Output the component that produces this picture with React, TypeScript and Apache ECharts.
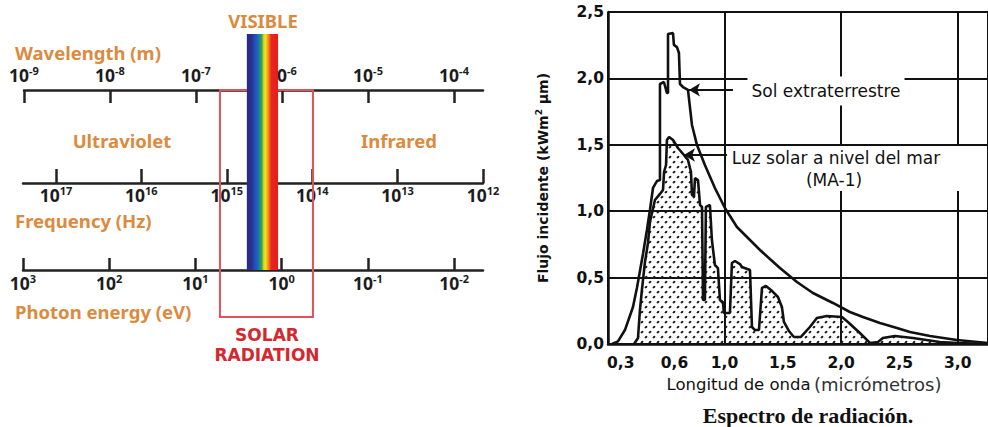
import React, { useEffect, useRef } from 'react';
import * as echarts from 'echarts';

// ---------------- Left diagram (electromagnetic scales) ----------------
const wavelengthExponents = [-9, -8, -7, -6, -5, -4]; // 10^x m
const frequencyExponents = [17, 16, 15, 14, 13, 12]; // 10^x Hz
const photonExponents = [3, 2, 1, 0, -1, -2]; // 10^x eV
const visibleRangeNm = [390, 900];
const solarRangeNm = [190, 2290];
const spectrumStops: [number, string][] = [
  [0, '#26297e'],
  [0.17, '#2a3393'],
  [0.22, '#2248b0'],
  [0.34, '#1f62c0'],
  [0.42, '#1f8f7a'],
  [0.48, '#3aa84a'],
  [0.54, '#cfd82a'],
  [0.6, '#f5e11c'],
  [0.66, '#f6a71b'],
  [0.72, '#ee6a1c'],
  [0.78, '#e8261d'],
  [1, '#e41d1d'],
];

// ---------------- Right chart (solar spectrum) ----------------
const xTickWavelengths = [0.3, 0.6, 1.0, 1.5, 2.0, 2.5, 3.0];
const xTickLabels = ['0,3', '0,6', '1,0', '1,5', '2,0', '2,5', '3,0'];
const axisKnotWavelengths = [0.3, 0.6, 1.0];
const axisKnotPositions = [0.11, 0.57, 1.0];

const extraterrestrialWl = [
  0.251, 0.284, 0.323, 0.368, 0.39, 0.424, 0.446, 0.463, 0.48, 0.502, 0.519, 0.519, 0.541, 0.558, 0.564,
  0.564, 0.592, 0.597, 0.62, 0.636, 0.644, 0.668, 0.708, 0.74, 0.78, 0.843, 0.923, 1.003, 1.106, 1.218,
  1.304, 1.389, 1.475, 1.621, 1.758, 1.93, 2.075, 2.187, 2.333, 2.479, 2.59, 2.762, 2.993, 3.259,
];
const extraterrestrialFlux = [
  0, 0.02, 0.105, 0.279, 0.422, 0.678, 0.858, 1.009, 1.175, 1.227, 1.235, 1.958, 1.973, 1.89, 1.89,
  2.334, 2.342, 2.252, 2.236, 2.191, 1.958, 1.935, 1.913, 1.649, 1.498, 1.348, 1.175, 1.024, 0.881, 0.783,
  0.708, 0.64, 0.572, 0.467, 0.384, 0.309, 0.241, 0.203, 0.158, 0.12, 0.09, 0.06, 0.03, 0.008,
];
const seaLevelWl = [
  0.374, 0.396, 0.407, 0.418, 0.435, 0.452, 0.463, 0.491, 0.519, 0.536, 0.542, 0.553, 0.558, 0.57, 0.592,
  0.628, 0.676, 0.708, 0.732, 0.74, 0.756, 0.764, 0.788, 0.804, 0.82, 0.828, 0.843, 0.851, 0.883, 0.899,
  0.923, 0.947, 0.963, 0.987, 0.995, 1.046, 1.063, 1.089, 1.132, 1.149, 1.218, 1.235, 1.261, 1.295, 1.321,
  1.355, 1.398, 1.458, 1.492, 1.509, 1.552, 1.595, 1.655, 1.732, 1.792, 1.878, 2.007, 2.058, 2.161, 2.247,
  2.316, 2.358, 2.461, 2.616, 2.847, 3.002, 3.259,
];
const seaLevelFlux = [
  0, 0.045, 0.256, 0.407, 0.617, 0.761, 0.919, 1.084, 1.13, 1.16, 1.295, 1.348, 1.536, 1.559, 1.536,
  1.476, 1.423, 1.386, 1.295, 1.122, 1.114, 1.25, 1.235, 1.047, 1.032, 0.331, 0.331, 1.032, 1.047, 0.783,
  0.595, 0.572, 0.331, 0.316, 0.233, 0.233, 0.61, 0.625, 0.602, 0.58, 0.557, 0.128, 0.105, 0.105, 0.422,
  0.437, 0.407, 0.354, 0.279, 0.166, 0.098, 0.053, 0.053, 0.128, 0.196, 0.211, 0.203, 0.166, 0.083, 0.008,
  0.015, 0.045, 0.06, 0.045, 0.015, 0.008, 0,
];
// annotation arrows: [wavelength, flux] from -> to
const arrowSolFrom = [1.072, 1.913];
const arrowSolTo = [0.716, 1.913];
const arrowLuzFrom = [1.021, 1.423];
const arrowLuzTo = [0.676, 1.423];

function toAxis(w: number): number {
  const [w0, w1, w2] = axisKnotWavelengths;
  const [p0, p1, p2] = axisKnotPositions;
  if (w >= w2) return w;
  if (w >= w1) return p1 + ((w - w1) * (p2 - p1)) / (w2 - w1);
  return p0 + ((w - w0) * (p1 - p0)) / (w1 - w0);
}

const FONT_L = '"Noto Sans", "DejaVu Sans", sans-serif';
const FONT_R = '"DejaVu Sans", sans-serif';
const ORANGE = '#dc8a3e';
const RED = '#d4282f';
const INK = '#1c1c1c';

const tickRich = {
  b: { fontSize: 17.5, fontWeight: 'bold', fontFamily: FONT_L, color: INK, lineHeight: 20 },
  s: { fontSize: 11, fontWeight: 'bold', fontFamily: FONT_L, color: INK, lineHeight: 11, verticalAlign: 'top' },
};
const powFormatter = (v: number) => `{b|10}{s|${Math.round(v)}}`;
const scaleLine = { color: '#222', width: 2.5 };

const dotTile =
  'data:image/svg+xml;utf8,' +
  encodeURIComponent(
    '<svg xmlns="http://www.w3.org/2000/svg" width="8" height="10">' +
      '<ellipse cx="2" cy="2.2" rx="1.6" ry="1.05" fill="#1a1a1a" transform="rotate(-35 2 2.2)"/>' +
      '<ellipse cx="6" cy="7.2" rx="1.6" ry="1.05" fill="#1a1a1a" transform="rotate(-35 6 7.2)"/>' +
      '</svg>'
  );

function leftText(text: string, x: number, y: number, color: string, align = 'left', font = `bold 18.5px ${FONT_L}`) {
  return {
    type: 'text',
    x,
    y,
    z: 60,
    style: {
      text,
      fill: color,
      font,
      textAlign: align,
      align,
      textVerticalAlign: 'middle',
      verticalAlign: 'middle',
    },
  };
}

export default function App() {
  const ref = useRef<HTMLDivElement>(null);
  useEffect(() => {
    if (!ref.current) return;
    const chart = echarts.init(ref.current, undefined, { renderer: 'svg' });
    const log10 = (v: number) => Math.log10(v);

    const option: any = {
      animation: false,
      backgroundColor: '#ffffff',
      grid: [
        { left: 24, right: 505, top: 90, height: 180 },
        { left: 23, right: 505, top: 183, height: 80 },
        { left: 23, right: 505, top: 100, height: 170 },
        { left: 608, right: 0, top: 12, bottom: 83 },
      ],
      xAxis: [
        {
          gridIndex: 0,
          type: 'value',
          position: 'top',
          min: -9,
          max: -3.663,
          axisLine: { show: true, onZero: false, lineStyle: scaleLine },
          axisTick: { show: true, inside: true, length: 13, customValues: wavelengthExponents, lineStyle: scaleLine },
          axisLabel: { customValues: wavelengthExponents, formatter: powFormatter, rich: tickRich, margin: 5 },
          splitLine: { show: false },
        },
        {
          gridIndex: 1,
          type: 'value',
          position: 'top',
          inverse: true,
          min: 12,
          max: 17.386,
          axisLine: { show: true, onZero: false, lineStyle: scaleLine },
          axisTick: { show: true, inside: false, length: 14, customValues: frequencyExponents, lineStyle: scaleLine },
          axisLabel: { inside: true, customValues: frequencyExponents, formatter: powFormatter, rich: tickRich, margin: 2 },
          splitLine: { show: false },
        },
        {
          gridIndex: 2,
          type: 'value',
          position: 'bottom',
          inverse: true,
          min: -2.336,
          max: 3,
          axisLine: { show: true, onZero: false, lineStyle: scaleLine },
          axisTick: { show: true, inside: true, length: 12, customValues: photonExponents, lineStyle: scaleLine },
          axisLabel: { customValues: photonExponents, formatter: powFormatter, rich: tickRich, margin: 3 },
          splitLine: { show: false },
        },
        {
          gridIndex: 3,
          type: 'value',
          min: 0,
          max: 3.26,
          interval: 1,
          axisLine: { show: true, onZero: false, lineStyle: { color: '#111', width: 2.5 } },
          axisTick: { show: false },
          splitLine: { show: true, lineStyle: { color: '#111', width: 2 } },
          axisLabel: {
            customValues: xTickWavelengths.map(toAxis),
            formatter: (v: number) => {
              const i = xTickWavelengths.findIndex((w) => Math.abs(toAxis(w) - v) < 1e-6);
              return i >= 0 ? xTickLabels[i] : '';
            },
            fontFamily: FONT_R,
            fontWeight: 'bold',
            fontSize: 15.5,
            color: '#111',
            margin: 11,
          },
          name: '{a|Longitud de onda} {b|(micrómetros)}',
          nameLocation: 'middle',
          nameGap: 31,
          nameTextStyle: {
            rich: {
              a: { fontFamily: FONT_R, fontSize: 16.5, color: '#111', padding: [0, 0, 0, 12] },
              b: { fontFamily: FONT_R, fontSize: 18, color: '#333' },
            },
          },
        },
      ],
      yAxis: [
        { gridIndex: 0, type: 'value', min: 0, max: 1, show: false },
        { gridIndex: 1, type: 'value', min: 0, max: 1, show: false },
        { gridIndex: 2, type: 'value', min: 0, max: 1, show: false },
        {
          gridIndex: 3,
          type: 'value',
          min: 0,
          max: 2.5,
          interval: 0.5,
          axisLine: { show: true, lineStyle: { color: '#111', width: 2.5 } },
          axisTick: { show: false },
          splitLine: { show: true, lineStyle: { color: '#111', width: 2 } },
          axisLabel: {
            formatter: (v: number) => v.toFixed(1).replace('.', ','),
            fontFamily: FONT_R,
            fontWeight: 'bold',
            fontSize: 15.5,
            color: '#111',
            margin: 4,
          },
          name: 'Flujo incidente (kWm{s|2} µm)',
          nameLocation: 'middle',
          nameRotate: 90,
          nameGap: 57,
          nameTextStyle: {
            fontFamily: FONT_R,
            fontWeight: 'bold',
            fontSize: 14,
            color: '#111',
            lineHeight: 17,
            rich: {
              s: { fontFamily: FONT_R, fontWeight: 'bold', fontSize: 9, lineHeight: 10, verticalAlign: 'top', color: '#111' },
            },
          },
        },
      ],
      series: [
        {
          type: 'custom',
          xAxisIndex: 0,
          yAxisIndex: 0,
          silent: true,
          clip: false,
          z: 5,
          data: [
            [log10(solarRangeNm[0] * 1e-9), log10(solarRangeNm[1] * 1e-9), 0],
            [log10(visibleRangeNm[0] * 1e-9), log10(visibleRangeNm[1] * 1e-9), 1],
          ],
          encode: { x: [0, 1], y: 2 },
          renderItem: (params: any, api: any) => {
            const x1 = api.coord([api.value(0), 0])[0];
            const x2 = api.coord([api.value(1), 0])[0];
            const cs = params.coordSys;
            if (api.value(2) === 0) {
              return {
                type: 'rect',
                shape: { x: x1, y: cs.y, width: x2 - x1, height: 227 },
                style: { fill: 'none', stroke: '#e2525a', lineWidth: 2 },
              };
            }
            return {
              type: 'rect',
              shape: { x: x1, y: cs.y - 56, width: x2 - x1, height: 236 },
              style: {
                fill: new echarts.graphic.LinearGradient(
                  0,
                  0,
                  1,
                  0,
                  spectrumStops.map(([offset, color]) => ({ offset, color }))
                ),
              },
            };
          },
        },
        {
          type: 'line',
          name: 'Sol extraterrestre',
          xAxisIndex: 3,
          yAxisIndex: 3,
          data: extraterrestrialWl.map((w, i) => [toAxis(w), extraterrestrialFlux[i]]),
          symbol: 'none',
          showSymbol: false,
          silent: true,
          z: 3,
          lineStyle: { color: '#111', width: 2.6 },
          markLine: {
            silent: true,
            symbol: ['none', 'arrow'],
            symbolSize: [10, 11],
            label: { show: false },
            lineStyle: { color: '#111', width: 2.2, type: 'solid' },
            data: [
              [
                { coord: [toAxis(arrowSolFrom[0]), arrowSolFrom[1]] },
                { coord: [toAxis(arrowSolTo[0]), arrowSolTo[1]] },
              ],
              [
                { coord: [toAxis(arrowLuzFrom[0]), arrowLuzFrom[1]] },
                { coord: [toAxis(arrowLuzTo[0]), arrowLuzTo[1]] },
              ],
            ],
          },
        },
        {
          type: 'line',
          name: 'Luz solar a nivel del mar (MA-1)',
          xAxisIndex: 3,
          yAxisIndex: 3,
          data: seaLevelWl.map((w, i) => [toAxis(w), seaLevelFlux[i]]),
          symbol: 'none',
          showSymbol: false,
          silent: true,
          z: 4,
          lineStyle: { color: '#111', width: 2.6 },
          areaStyle: {
            color: { image: dotTile, repeat: 'repeat', imageWidth: 8, imageHeight: 10 },
            opacity: 1,
          },
        },
      ],
      graphic: [
        leftText('VISIBLE', 263, 20, ORANGE, 'center'),
        leftText('Wavelength (m)', 15, 52, ORANGE),
        leftText('Ultraviolet', 122, 140, ORANGE, 'center'),
        leftText('Infrared', 399, 140, ORANGE, 'center'),
        leftText('Frequency (Hz)', 15, 220, ORANGE),
        leftText('Photon energy (eV)', 15, 311, ORANGE),
        leftText('SOLAR', 267, 335, RED, 'center', `bold 17px "DejaVu Sans", sans-serif`),
        leftText('RADIATION', 267, 355, RED, 'center', `bold 17px "DejaVu Sans", sans-serif`),
        {
          type: 'rect',
          z: 50,
          shape: { x: 728, y: 146, width: 248, height: 45 },
          style: { fill: '#ffffff' },
        },
        {
          type: 'text',
          x: 826,
          y: 91,
          z: 51,
          style: {
            text: 'Sol extraterrestre',
            font: `17px ${FONT_R}`,
            fill: '#111',
            textAlign: 'center',
            align: 'center',
            textVerticalAlign: 'middle',
            verticalAlign: 'middle',
            backgroundColor: '#ffffff',
            padding: [6, 4],
          },
        },
        {
          type: 'text',
          x: 836,
          y: 158,
          z: 51,
          style: {
            text: 'Luz solar a nivel del mar',
            font: `17px ${FONT_R}`,
            fill: '#111',
            textAlign: 'center',
            align: 'center',
            textVerticalAlign: 'middle',
            verticalAlign: 'middle',
          },
        },
        {
          type: 'text',
          x: 834,
          y: 180,
          z: 51,
          style: {
            text: '(MA-1)',
            font: `17px ${FONT_R}`,
            fill: '#111',
            textAlign: 'center',
            align: 'center',
            textVerticalAlign: 'middle',
            verticalAlign: 'middle',
          },
        },
        {
          type: 'text',
          x: 808,
          y: 415,
          z: 51,
          style: {
            text: 'Espectro de radiación.',
            font: `bold 22px "Liberation Serif", serif`,
            fill: '#111',
            textAlign: 'center',
            align: 'center',
            textVerticalAlign: 'middle',
            verticalAlign: 'middle',
          },
        },
      ],
    };
    chart.setOption(option);
    return () => chart.dispose();
  }, []);
  return (
    <div
      ref={ref}
      style={{ position: 'fixed', left: 0, top: 0, width: 988, height: 427, background: '#fff' }}
    />
  );
}
